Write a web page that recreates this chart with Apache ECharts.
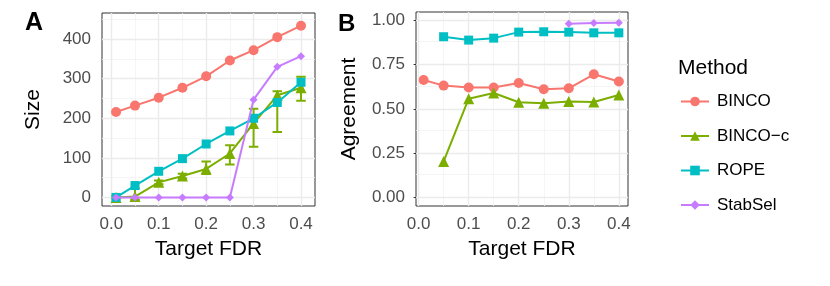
<!DOCTYPE html>
<html><head><meta charset="utf-8">
<script src="https://cdn.jsdelivr.net/npm/echarts@6/dist/echarts.min.js"></script>
<style>html,body{margin:0;padding:0;background:#fff}#c{width:830px;height:286px}</style>
</head><body><div id="c"></div>
<script>
// ---- data ----
const methods = ['BINCO', 'BINCO\u2212c', 'ROPE', 'StabSel'];
const targetFDR = [0.01, 0.05, 0.1, 0.15, 0.2, 0.25, 0.3, 0.35, 0.4];
const sizeBINCO   = [216, 232, 252, 277, 306, 346, 372, 405, 434];
const sizeBINCOc  = [0, 2, 38, 54, 72, 111, 187, 258, 277];
const sizeBINCOcLow  = [-3, -5, 33, 48, 59, 83, 128, 165, 244];
const sizeBINCOcHigh = [4, 23, 43, 60, 91, 132, 224, 268, 305];
const sizeROPE    = [0, 30, 66, 98, 135, 168, 200, 240, 291];
const sizeStabSel = [0, 0, 0, 0, 0, 0, 247, 330, 357];
const agrBINCO   = [0.664, 0.632, 0.621, 0.621, 0.647, 0.611, 0.617, 0.696, 0.655];
const agrBINCOc  = [null, 0.204, 0.558, 0.590, 0.538, 0.532, 0.542, 0.540, 0.579];
const agrROPE    = [null, 0.908, 0.889, 0.900, 0.934, 0.936, 0.934, 0.930, 0.930];
const agrStabSel = [null, null, null, null, null, null, 0.981, 0.985, 0.987];
const xTicks = [0, 0.1, 0.2, 0.3, 0.4];
const xMinor = [0.05, 0.15, 0.25, 0.35];
const sizeTicks = [0, 100, 200, 300, 400];
const sizeMinor = [50, 150, 250, 350, 450];
const agrTicks = [0, 0.25, 0.5, 0.75, 1];
const agrMinor = [0.125, 0.375, 0.625, 0.875];

// ---- style ----
const colors = ['#F8766D', '#7CAE00', '#00BFC4', '#C77CFF'];
const symbols = ['circle', 'triangle', 'rect', 'diamond'];
const symSizes = [10, 11, 9, 8];
const FONT = '"Liberation Sans", Arial, Helvetica, sans-serif';

function pairs(xs, ys) {
  const out = [];
  xs.forEach((x, i) => { if (ys[i] !== null && ys[i] !== undefined) out.push([x, ys[i]]); });
  return out;
}

function xAxisCfg(gridIndex, min, max) {
  return {
    type: 'value', gridIndex, min, max,
    axisLine: { show: false },
    splitLine: { show: false },
    axisTick: { show: true, length: 5, lineStyle: { color: '#333', width: 1 }, customValues: xTicks },
    axisLabel: { customValues: xTicks, formatter: v => v.toFixed(1), color: '#4D4D4D', fontSize: 17, fontFamily: FONT, margin: 10 },
    name: 'Target FDR', nameLocation: 'middle', nameGap: 33,
    nameTextStyle: { fontSize: 21, fontFamily: FONT, color: '#000' }
  };
}
function yAxisCfg(gridIndex, min, max, ticks, dec, name, gap) {
  return {
    type: 'value', gridIndex, min, max,
    axisLine: { show: false },
    splitLine: { show: false },
    axisTick: { show: true, length: 5, lineStyle: { color: '#333', width: 1 }, customValues: ticks },
    axisLabel: { customValues: ticks, formatter: v => v.toFixed(dec), color: '#4D4D4D', fontSize: 17, fontFamily: FONT, margin: 11 },
    name, nameLocation: 'middle', nameGap: gap,
    nameTextStyle: { fontSize: 21, fontFamily: FONT, color: '#000' }
  };
}

function gridLines(idx, xMaj, xMin, yMaj, yMin) {
  const major = { color: '#EBEBEB', width: 1.4, type: 'solid' };
  const minor = { color: '#F3F3F3', width: 0.8, type: 'solid' };
  const d = [];
  xMin.forEach(v => d.push({ xAxis: v, lineStyle: minor }));
  yMin.forEach(v => d.push({ yAxis: v, lineStyle: minor }));
  xMaj.forEach(v => d.push({ xAxis: v, lineStyle: major }));
  yMaj.forEach(v => d.push({ yAxis: v, lineStyle: major }));
  return {
    type: 'line', name: '_grid' + idx, xAxisIndex: idx, yAxisIndex: idx, data: [], z: 1, silent: true,
    markLine: { z: 1, zlevel: 0, silent: true, symbol: ['none', 'none'], label: { show: false }, animation: false, data: d }
  };
}

function lineSeries(i, idx, ys) {
  return {
    type: 'line', name: methods[i], xAxisIndex: idx, yAxisIndex: idx,
    data: pairs(targetFDR, ys), symbol: symbols[i], symbolSize: symSizes[i],
    itemStyle: { color: colors[i] }, lineStyle: { color: colors[i], width: 2 },
    z: 3 + i, connectNulls: false
  };
}

const errData = targetFDR.map((x, i) => [x, sizeBINCOcLow[i], sizeBINCOcHigh[i]]);

const option = {
  animation: false,
  backgroundColor: '#fff',
  textStyle: { fontFamily: FONT },
  grid: [
    { left: 102, top: 13, width: 213, height: 193, show: true, borderColor: '#333', borderWidth: 1, backgroundColor: '#fff' },
    { left: 416, top: 12, width: 212, height: 194, show: true, borderColor: '#333', borderWidth: 1, backgroundColor: '#fff' }
  ],
  xAxis: [xAxisCfg(0, -0.0196, 0.4295), xAxisCfg(1, -0.0052, 0.4183)],
  yAxis: [
    yAxisCfg(0, -21.7, 466, sizeTicks, 0, 'Size', 58),
    yAxisCfg(1, -0.0476, 1.0476, agrTicks, 2, 'Agreement', 56)
  ],
  legend: {
    orient: 'vertical', left: 680, top: 93, padding: 0, itemWidth: 28, itemHeight: 12, itemGap: 17.5,
    selectedMode: false, data: methods,
    textStyle: { fontSize: 17, fontFamily: FONT, color: '#000', lineHeight: 17, padding: [0, 0, 0, 3] }
  },
  graphic: [
    { type: 'text', left: 25, top: 11, style: { text: 'A', font: 'bold 25px ' + FONT, fill: '#000' } },
    { type: 'text', left: 338, top: 12, style: { text: 'B', font: 'bold 24px ' + FONT, fill: '#000' } },
    { type: 'text', left: 678, top: 58, style: { text: 'Method', font: '21px ' + FONT, fill: '#000' } }
  ],
  series: [
    gridLines(0, xTicks, xMinor, sizeTicks, sizeMinor),
    gridLines(1, xTicks, xMinor, agrTicks, agrMinor),
    lineSeries(0, 0, sizeBINCO),
    lineSeries(1, 0, sizeBINCOc),
    {
      type: 'custom', xAxisIndex: 0, yAxisIndex: 0, z: 4, data: errData, animation: false, silent: true,
      encode: { x: 0, y: [1, 2] },
      itemStyle: { color: '#7CAE00', opacity: 1 },
      renderItem: function (params, api) {
        const x = api.value(0), lo = api.value(1), hi = api.value(2);
        const p1 = api.coord([x, lo]), p2 = api.coord([x, hi]);
        const hw = api.size([0.01, 0])[0];
        const path = 'M' + p1[0] + ' ' + p1[1] + 'L' + p2[0] + ' ' + p2[1] +
          'M' + (p1[0] - hw) + ' ' + p1[1] + 'L' + (p1[0] + hw) + ' ' + p1[1] +
          'M' + (p2[0] - hw) + ' ' + p2[1] + 'L' + (p2[0] + hw) + ' ' + p2[1];
        return {
          type: 'path', shape: { pathData: path },
          style: { stroke: '#7CAE00', fill: 'none', lineWidth: 2, opacity: 1 }
        };
      }
    },
    lineSeries(2, 0, sizeROPE),
    lineSeries(3, 0, sizeStabSel),
    lineSeries(0, 1, agrBINCO),
    lineSeries(1, 1, agrBINCOc),
    lineSeries(2, 1, agrROPE),
    lineSeries(3, 1, agrStabSel)
  ]
};
const chart = echarts.init(document.getElementById('c'), null, { renderer: 'canvas' });
chart.setOption(option);
</script>
</body></html>
